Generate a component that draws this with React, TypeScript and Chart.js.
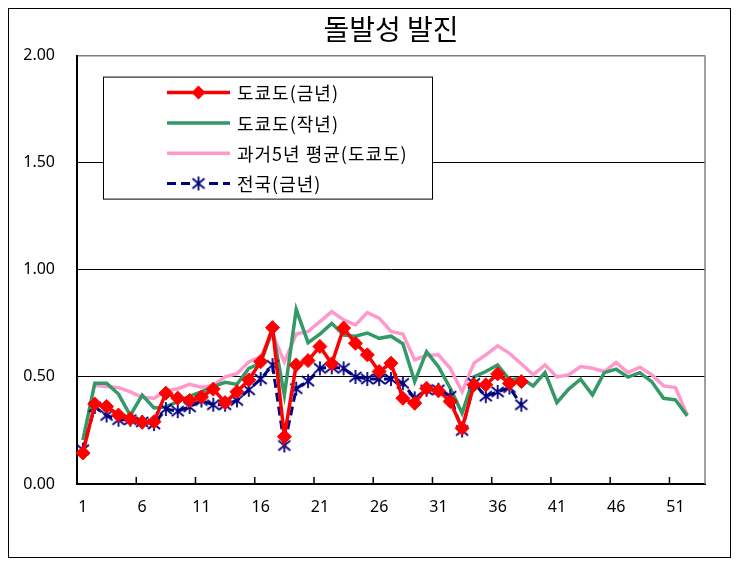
import React, { useEffect, useRef } from 'react';
import { Chart, registerables } from 'chart.js';

Chart.register(...registerables);

// Categories: epidemiological weeks 1..53
const weekLabels: string[] = [
  '1','2','3','4','5','6','7','8','9','10','11','12','13','14','15','16','17','18','19','20',
  '21','22','23','24','25','26','27','28','29','30','31','32','33','34','35','36','37','38','39','40',
  '41','42','43','44','45','46','47','48','49','50','51','52','53',
];

const seriesNames: string[] = ['도쿄도(금년)', '도쿄도(작년)', '과거5년 평균(도쿄도)', '전국(금년)'];

// 도쿄도(금년)
const tokyoThisYear: (number | null)[] = [
  0.145, 0.373, 0.362, 0.322, 0.304, 0.288, 0.291, 0.424, 0.401, 0.39,
  0.406, 0.443, 0.380, 0.431, 0.486, 0.571, 0.730, 0.221, 0.556, 0.576,
  0.642, 0.561, 0.728, 0.657, 0.603, 0.525, 0.564, 0.400, 0.377, 0.447,
  0.435, 0.385, 0.260, 0.463, 0.463, 0.514, 0.470, 0.478,
];

// 도쿄도(작년)
const tokyoLastYear: (number | null)[] = [
  0.205, 0.47, 0.47, 0.42, 0.32, 0.415, 0.355, 0.36, 0.385, 0.41,
  0.43, 0.455, 0.475, 0.465, 0.54, 0.565, 0.72, 0.415, 0.815, 0.66,
  0.70, 0.75, 0.695, 0.69, 0.705, 0.68, 0.69, 0.655, 0.478, 0.618,
  0.548, 0.447, 0.33, 0.50, 0.525, 0.556, 0.486, 0.494, 0.458, 0.52,
  0.38, 0.443, 0.489, 0.416, 0.52, 0.536, 0.499, 0.52, 0.478, 0.40,
  0.393, 0.318,
];

// 과거5년 평균(도쿄도)
const tokyoPast5Avg: (number | null)[] = [
  null, 0.46, 0.455, 0.45, 0.43, 0.405, 0.40, 0.435, 0.445, 0.465,
  0.452, 0.46, 0.50, 0.515, 0.57, 0.595, 0.70, 0.57, 0.70, 0.712,
  0.758, 0.805, 0.766, 0.743, 0.80, 0.774, 0.712, 0.70, 0.58, 0.60,
  0.603, 0.54, 0.43, 0.564, 0.603, 0.645, 0.61, 0.56, 0.51, 0.556,
  0.50, 0.51, 0.548, 0.54, 0.525, 0.567, 0.52, 0.545, 0.51, 0.458,
  0.45, 0.322,
];

// 전국(금년)
const nationalThisYear: (number | null)[] = [
  0.16, 0.36, 0.32, 0.30, 0.30, 0.29, 0.28, 0.35, 0.34, 0.36,
  0.39, 0.37, 0.37, 0.39, 0.44, 0.49, 0.555, 0.18, 0.445, 0.48,
  0.54, 0.545, 0.54, 0.50, 0.49, 0.49, 0.49, 0.47, 0.40, 0.44,
  0.44, 0.41, 0.25, 0.47, 0.41, 0.43, 0.45, 0.37,
];

const yMin = 0;
const yMax = 2;
const yStep = 0.5;
const xLabelEvery = 5;

const TITLE = '돌발성 발진';
const FONT_NUM = '"Noto Sans", "DejaVu Sans", sans-serif';
const FONT_KR = '"Noto Sans CJK KR", "Noto Sans", sans-serif';

function makeStar(): HTMLCanvasElement {
  const c = document.createElement('canvas');
  c.width = 16;
  c.height = 16;
  const g = c.getContext('2d')!;
  g.strokeStyle = '#000080';
  g.lineWidth = 1.8;
  g.beginPath();
  g.moveTo(8, 1); g.lineTo(8, 15);
  g.moveTo(2, 3); g.lineTo(14, 13);
  g.moveTo(14, 3); g.lineTo(2, 13);
  g.stroke();
  return c;
}

function drawDiamond(ctx: CanvasRenderingContext2D, x: number, y: number, r: number, color: string) {
  ctx.beginPath();
  ctx.moveTo(x, y - r);
  ctx.lineTo(x + r, y);
  ctx.lineTo(x, y + r);
  ctx.lineTo(x - r, y);
  ctx.closePath();
  ctx.fillStyle = color;
  ctx.fill();
}

const frameAndTicksPlugin = {
  id: 'frameAndTicks',
  afterDatasetsDraw(chart: any) {
    const { ctx, chartArea, scales } = chart;
    const xs = scales.x;
    ctx.save();
    // right border (gray)
    ctx.strokeStyle = '#808080';
    ctx.lineWidth = 1.5;
    ctx.beginPath();
    ctx.moveTo(chartArea.right, chartArea.top);
    ctx.lineTo(chartArea.right, chartArea.bottom);
    ctx.stroke();
    // inward tick marks at category boundaries every 5 weeks
    ctx.strokeStyle = '#000';
    ctx.lineWidth = 1.5;
    ctx.beginPath();
    for (let i = xLabelEvery; i < weekLabels.length; i += xLabelEvery) {
      const bx = (xs.getPixelForValue(i - 1) + xs.getPixelForValue(i)) / 2;
      ctx.moveTo(bx, chartArea.bottom);
      ctx.lineTo(bx, chartArea.bottom - 7);
    }
    ctx.stroke();
    ctx.restore();
  },
};

const boxLegendPlugin = {
  id: 'boxLegend',
  afterDraw(chart: any) {
    const { ctx, chartArea } = chart;
    const x0 = chartArea.left + 26;
    const y0 = chartArea.top + 21;
    const w = 329;
    const h = 122;
    ctx.save();
    ctx.fillStyle = '#fff';
    ctx.fillRect(x0, y0, w, h);
    ctx.strokeStyle = '#000';
    ctx.lineWidth = 1;
    ctx.strokeRect(x0 + 0.5, y0 + 0.5, w, h);
    chart.data.datasets.forEach((ds: any, i: number) => {
      const cy = y0 + 16 + i * 30.3;
      const lx0 = x0 + 64;
      const lx1 = x0 + 127;
      ctx.strokeStyle = ds.borderColor;
      ctx.lineWidth = ds.borderWidth;
      ctx.setLineDash(ds.borderDash || []);
      ctx.beginPath();
      ctx.moveTo(lx0, cy);
      ctx.lineTo(lx1, cy);
      ctx.stroke();
      ctx.setLineDash([]);
      const mx = (lx0 + lx1) / 2;
      if (ds.pointStyle === 'rectRot' && ds.pointRadius > 0) {
        drawDiamond(ctx, mx, cy, ds.pointRadius, ds.pointBackgroundColor);
      } else if (ds.pointStyle instanceof HTMLCanvasElement) {
        ctx.fillStyle = '#fff';
        ctx.fillRect(mx - 6, cy - 3, 12, 6);
        ctx.drawImage(ds.pointStyle, mx - 8, cy - 8);
      }
      ctx.fillStyle = '#000';
      ctx.font = `18px ${FONT_KR}`;
      (ctx as any).letterSpacing = '1px';
      ctx.textBaseline = 'middle';
      ctx.textAlign = 'left';
      ctx.fillText(ds.label, x0 + 134, cy + 1);
      (ctx as any).letterSpacing = '0px';
    });
    ctx.restore();
  },
};

export default function App() {
  const canvasRef = useRef<HTMLCanvasElement | null>(null);

  useEffect(() => {
    if (!canvasRef.current) return;
    const star = makeStar();
    const chart = new Chart(canvasRef.current, {
      type: 'line',
      data: {
        labels: weekLabels,
        datasets: [
          {
            label: seriesNames[0],
            data: tokyoThisYear,
            borderColor: '#FF0000',
            backgroundColor: '#FF0000',
            borderWidth: 3.5,
            pointStyle: 'rectRot',
            pointRadius: 7,
            pointBorderWidth: 1,
            pointBackgroundColor: '#FF0000',
            pointBorderColor: '#FF0000',
            tension: 0,
            order: 0,
          },
          {
            label: seriesNames[1],
            data: tokyoLastYear,
            borderColor: '#339966',
            backgroundColor: '#339966',
            borderWidth: 3.5,
            pointRadius: 0,
            tension: 0,
            order: 2,
          },
          {
            label: seriesNames[2],
            data: tokyoPast5Avg,
            borderColor: '#FF99CC',
            backgroundColor: '#FF99CC',
            borderWidth: 3.5,
            pointRadius: 0,
            tension: 0,
            order: 3,
          },
          {
            label: seriesNames[3],
            data: nationalThisYear,
            borderColor: '#000080',
            backgroundColor: '#000080',
            borderWidth: 3,
            borderDash: [9, 5],
            pointStyle: star as any,
            pointRadius: 8,
            tension: 0,
            order: 1,
          },
        ],
      },
      options: {
        animation: false,
        responsive: false,
        devicePixelRatio: 1,
        layout: { padding: { top: 0, right: 25, bottom: 0, left: 0 } },
        plugins: {
          legend: { display: false },
          tooltip: { enabled: false },
          title: {
            display: true,
            fullSize: false,
            text: TITLE,
            color: '#000',
            font: { family: FONT_KR, size: 28, weight: 'normal' as any },
            padding: { top: 4, bottom: 9 },
          },
        },
        scales: {
          x: {
            type: 'category',
            offset: true,
            grid: { display: false, drawTicks: false },
            border: { display: true, color: '#000', width: 2 },
            ticks: {
              autoSkip: false,
              maxRotation: 0,
              color: '#000',
              padding: 14,
              font: { family: FONT_NUM, size: 16 },
              callback: (_v: any, idx: number) => (idx % xLabelEvery === 0 ? weekLabels[idx] : null),
            },
            afterFit: (scale: any) => { scale.height = 73; },
          },
          y: {
            min: yMin,
            max: yMax,
            grid: {
              drawTicks: false,
              lineWidth: (c: any) => (c.tick && c.tick.value === yMax ? 1.5 : 1),
              color: (c: any) => (c.tick && c.tick.value === yMax ? '#808080' : '#000'),
            },
            border: { display: true, color: '#000', width: 2 },
            ticks: {
              stepSize: yStep,
              color: '#000',
              padding: 22,
              font: { family: FONT_NUM, size: 16 },
              callback: (v: any) => Number(v).toFixed(2),
            },
            afterFit: (scale: any) => { scale.width = 68; },
          },
        },
      },
      plugins: [frameAndTicksPlugin, boxLegendPlugin],
    });
    return () => chart.destroy();
  }, []);

  return (
    <div style={{ width: 723, height: 550, border: '1px solid #000', boxSizing: 'border-box' }}>
      <canvas ref={canvasRef} width={721} height={548} style={{ display: 'block' }} />
    </div>
  );
}
